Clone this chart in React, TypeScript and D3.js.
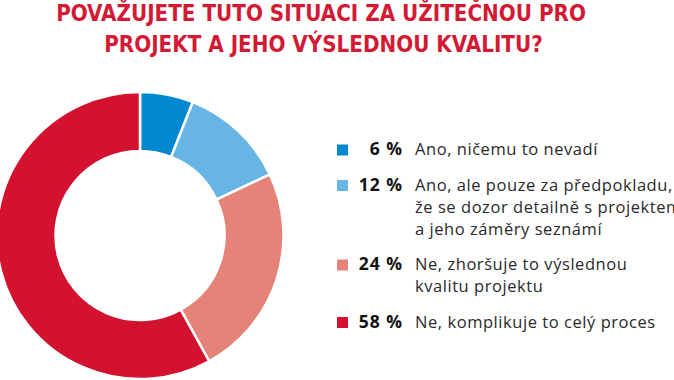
import React from "react";
import * as d3 from "d3";

const titleLines = ["POVAŽUJETE TUTO SITUACI ZA UŽITEČNOU PRO", "PROJEKT A JEHO VÝSLEDNOU KVALITU?"];
const categories = [
  ["Ano, ničemu to nevadí"],
  ["Ano, ale pouze za předpokladu,", "že se dozor detailně s projektem", "a jeho záměry seznámí"],
  ["Ne, zhoršuje to výslednou", "kvalitu projektu"],
  ["Ne, komplikuje to celý proces"],
];
const values = [6, 12, 24, 58];
const colors = ["#0089d1", "#66b5e4", "#e58378", "#d31230"];

const W = 674, H = 380;

export default function App() {
  const cx = 140, cy = 235.5, R = 143.5, r = 84.5;
  const pie = d3.pie<number>().sort(null).value((d) => d)(values);
  const arc = d3.arc<d3.PieArcDatum<number>>().innerRadius(r).outerRadius(R);

  const L = 22, G = 13.5;
  let y = 155;
  const rows = categories.map((lines, i) => {
    const row = { y, lines, i };
    y += lines.length * L + G;
    return row;
  });

  return (
    <svg width={W} height={H} style={{ position: "absolute", left: 0, top: 0, background: "#fff" }}>
      <g fontFamily="'Liberation Sans Narrow', 'DejaVu Sans Condensed', sans-serif" fontWeight="bold" fill="#d31a35" fontSize={22.2} textAnchor="middle">
        <text x={321} y={21}>{titleLines[0]}</text>
        <text x={323.5} y={52}>{titleLines[1]}</text>
      </g>
      <g transform={`translate(${cx},${cy})`}>
        {pie.map((p, i) => (
          <path key={i} d={arc(p) || ""} fill={colors[i]} stroke="#fff" strokeWidth={2.5} />
        ))}
      </g>
      <g fontFamily="'Open Sans', sans-serif" fontSize={16.5} letterSpacing={0.55} fill="#222">
        {rows.map((row) => (
          <g key={row.i}>
            <rect x={337} y={row.y - 10.5} width={11} height={11} fill={colors[row.i]} />
            <text x={403} y={row.y} textAnchor="end" fontWeight="bold" fontSize={17.5} letterSpacing={1} fill="#111">{values[row.i]} %</text>
            {row.lines.map((ln, j) => (
              <text key={j} x={415} y={row.y + j * L} fill="#2a2a2a">{ln}</text>
            ))}
          </g>
        ))}
      </g>
    </svg>
  );
}
